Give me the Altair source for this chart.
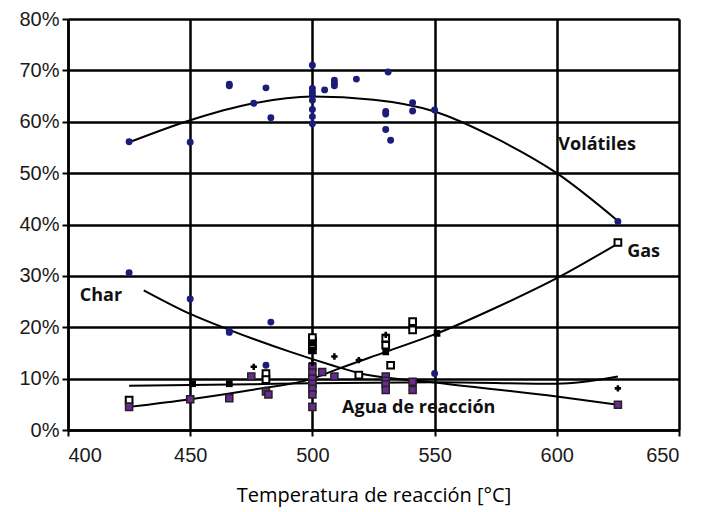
import altair as alt
import pandas as pd

# ---------------- data ----------------
# Scatter points (temperature °C, percent)
vol_t = [425, 450, 466, 466, 476, 481, 483, 500, 500, 500, 500, 500, 500, 500, 500,
         505, 509, 509, 509, 518, 531, 530, 530, 530, 532, 541, 541, 550, 625]
vol_y = [56.1, 56.0, 67.3, 67.0, 63.6, 66.6, 60.8, 71.0, 66.5, 65.8, 65.2, 64.2, 62.4, 61.0, 59.6,
         66.2, 68.1, 67.5, 67.0, 68.3, 69.7, 62.0, 61.5, 58.5, 56.4, 63.7, 62.1, 62.3, 40.6]

char_t = [425, 450, 466, 466, 483, 481, 500, 550]
char_y = [30.6, 25.5, 19.3, 19.0, 21.0, 12.6, 12.0, 11.0]

gas_t = [425, 481, 481, 500, 500, 500, 500, 519, 530, 530, 532, 541, 541, 625]
gas_y = [5.8, 11.0, 9.8, 15.6, 16.4, 17.2, 18.0, 10.7, 16.5, 17.9, 12.6, 19.5, 21.1, 36.5]

agua_t = [425, 450, 466, 475, 481, 482, 500, 500, 500, 500, 500, 500, 500, 504, 509,
          530, 530, 530, 530, 541, 541, 625]
agua_y = [4.5, 6.0, 6.2, 10.4, 7.5, 6.9, 12.3, 11.2, 10.0, 9.0, 8.0, 6.9, 4.5, 11.3, 10.4,
          10.4, 9.6, 8.9, 7.8, 9.4, 7.8, 4.9]

plus_t = [476, 500, 509, 519, 530, 625]
plus_y = [12.3, 13.0, 14.3, 13.6, 18.5, 8.1]

negro_t = [451, 466, 500, 500, 530, 551]
negro_y = [9.0, 9.0, 15.6, 17.0, 15.2, 18.8]

# Trend curves, points
vol_curve_t = [425, 450, 475, 500, 525, 550, 575, 600, 625]
vol_curve_y = [56.0, 60.3, 63.5, 64.9, 64.3, 62.0, 56.8, 50.0, 40.7]

char_curve_t = [431, 450, 466, 491, 508, 518, 551, 600, 625]
char_curve_y = [27.2, 22.6, 19.5, 15.2, 12.6, 11.2, 9.2, 6.5, 4.9]

gas_curve_t = [425, 450, 475, 500, 510, 530, 551, 575, 601, 625]
gas_curve_y = [4.5, 6.0, 7.8, 10.0, 11.8, 15.2, 18.8, 23.8, 29.8, 36.3]

agua_curve_t = [425, 475, 500, 550, 600, 625]
agua_curve_y = [8.6, 8.9, 9.1, 9.3, 9.0, 10.4]

# Text labels
lab_text = ["Volátiles", "Gas", "Char", "Agua de reacción"]
lab_t = [616.5, 635.5, 413.5, 543.5]
lab_y = [55.5, 34.6, 26.1, 4.3]

# ---------------- build tables ----------------
def pts(t, y, s):
    return pd.DataFrame({"t": t, "y": y, "s": s})

vol = pts(vol_t, vol_y, "vol")
char = pts(char_t, char_y, "char")
gas = pts(gas_t, gas_y, "gas")
agua = pts(agua_t, agua_y, "agua")
plus = pts(plus_t, plus_y, "plus")
negro = pts(negro_t, negro_y, "negro")

curves = pd.concat([
    pts(vol_curve_t, vol_curve_y, "Volátiles"),
    pts(char_curve_t, char_curve_y, "Char"),
    pts(gas_curve_t, gas_curve_y, "Gas"),
    pts(agua_curve_t, agua_curve_y, "Agua"),
])
labels = pd.DataFrame({"t": lab_t, "y": lab_y, "text": lab_text})

xs = alt.Scale(domain=[400, 650], nice=False, zero=False)
ys = alt.Scale(domain=[0, 80], nice=False)

xax = alt.Axis(values=[400, 450, 500, 550, 600, 650], grid=True, gridColor="black",
               gridWidth=2.5, gridOpacity=1, domainColor="black", domainWidth=2.5,
               tickColor="black", tickSize=6, tickWidth=2, labelFont="Liberation Sans",
               labelFontSize=20, labelColor="#1a1a1a", labelPadding=9,
               title="Temperatura de reacción [°C]", titleFont="Open Sans",
               titleFontWeight="normal", titleFontSize=20, titleColor="black",
               titlePadding=20)
yax = alt.Axis(values=[0, 10, 20, 30, 40, 50, 60, 70, 80], grid=True, gridColor="black",
               gridWidth=2.5, gridOpacity=1, domainColor="black", domainWidth=2.5,
               tickColor="black", tickSize=6, tickWidth=2, labelFont="Liberation Sans",
               labelFontSize=20, labelColor="#1a1a1a", labelPadding=3,
               labelExpr="datum.value + '%'", title=None)

X = alt.X("t:Q", scale=xs, axis=xax)
Y = alt.Y("y:Q", scale=ys, axis=yax)

lines = alt.Chart(curves).mark_line(color="black", strokeWidth=2, interpolate="monotone").encode(
    x=X, y=Y, detail="s:N")

navy = "#1c1c7a"
vol_pts = alt.Chart(pd.concat([vol, char])).mark_point(
    shape="circle", filled=True, color=navy, size=48, opacity=1).encode(x=X, y=Y)
gas_pts = alt.Chart(gas).mark_point(
    shape="square", filled=True, fill="white", stroke="black", strokeWidth=2,
    size=45, opacity=1).encode(x=X, y=Y)
agua_pts = alt.Chart(agua).mark_point(
    shape="square", filled=True, fill="#6a2a92", stroke="#222222", strokeWidth=1.5,
    size=50, opacity=1).encode(x=X, y=Y)
negro_pts = alt.Chart(negro).mark_point(
    shape="square", filled=True, color="black", size=45, opacity=1).encode(x=X, y=Y)
plus_pts = alt.Chart(plus).mark_point(
    shape="cross", filled=True, color="black", size=40, opacity=1).encode(x=X, y=Y)

texts = alt.Chart(labels).mark_text(
    font="Open Sans", fontWeight="bold", fontSize=18, color="#111111",
    align="center", baseline="middle").encode(x=X, y=Y, text="text:N")

chart = alt.layer(lines, vol_pts, gas_pts, agua_pts, negro_pts, plus_pts, texts).properties(
    width=611, height=411,
    autosize=alt.AutoSizeParams(type="none"),
    padding={"left": 60, "top": 11, "right": 20, "bottom": 85},
).configure_view(stroke="black", strokeWidth=2.5).configure(background="white")

chart.save("out.html", embed_options={"renderer": "svg", "actions": False})
